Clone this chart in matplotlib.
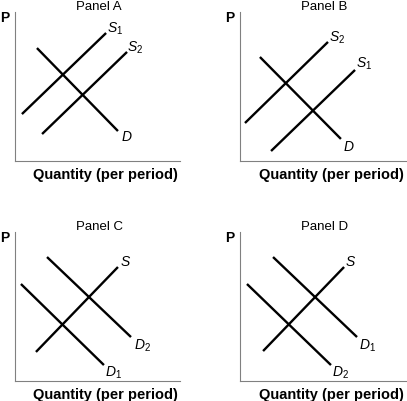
import matplotlib
matplotlib.use('Agg')
import matplotlib.pyplot as plt

plt.rcParams['font.family'] = ['Liberation Sans', 'DejaVu Sans']
plt.rcParams['mathtext.fontset'] = 'custom'
plt.rcParams['mathtext.rm'] = 'Liberation Sans'
plt.rcParams['mathtext.it'] = 'Liberation Sans:italic'

# curve endpoints: (Q start, Q end), (P start, P end), on a 0-10 scale
panel_titles = ['Panel A', 'Panel B', 'Panel C', 'Panel D']

a_s1_q = [0.42, 5.52]; a_s1_p = [3.15, 8.59]
a_s2_q = [1.64, 6.79]; a_s2_p = [1.81, 7.32]
a_d_q = [1.33, 6.24];  a_d_p = [7.58, 2.01]

b_s2_q = [0.30, 5.30]; b_s2_p = [2.55, 7.99]
b_s1_q = [1.87, 6.93]; b_s1_p = [0.67, 6.11]
b_d_q = [1.20, 6.08];  b_d_p = [6.98, 1.48]

c_s_q = [1.27, 6.24];  c_s_p = [1.95, 7.65]
c_d2_q = [1.94, 7.03]; c_d2_p = [8.32, 2.95]
c_d1_q = [0.36, 5.39]; c_d1_p = [6.51, 1.07]

d_s_q = [1.39, 6.27];  d_s_p = [2.01, 7.65]
d_d1_q = [1.99, 7.05]; d_d1_p = [8.32, 2.95]
d_d2_q = [0.42, 5.48]; d_d2_p = [6.51, 1.07]

# curve labels: (text, Q, P)
a_labels = [(r'$S_1$', 6.06, 8.93), (r'$S_2$', 7.27, 7.65), (r'$D$', 6.79, 1.68)]
b_labels = [(r'$S_2$', 5.84, 8.32), (r'$S_1$', 7.47, 6.58), (r'$D$', 6.57, 1.01)]
c_labels = [(r'$S$', 6.73, 8.05), (r'$D_2$', 7.70, 2.42), (r'$D_1$', 5.94, 0.60)]
d_labels = [(r'$S$', 6.69, 8.05), (r'$D_1$', 7.65, 2.42), (r'$D_2$', 6.08, 0.60)]

panels = [
    ([(a_s1_q, a_s1_p), (a_s2_q, a_s2_p), (a_d_q, a_d_p)], a_labels),
    ([(b_s2_q, b_s2_p), (b_s1_q, b_s1_p), (b_d_q, b_d_p)], b_labels),
    ([(c_s_q, c_s_p), (c_d2_q, c_d2_p), (c_d1_q, c_d1_p)], c_labels),
    ([(d_s_q, d_s_p), (d_d1_q, d_d1_p), (d_d2_q, d_d2_p)], d_labels),
]

W, H = 407, 402
# axes boxes in pixels: left, top, right, bottom
boxes = [(15, 13, 180, 162), (240, 13, 406, 162),
         (15, 233, 180, 382), (240, 233, 406, 382)]

fig = plt.figure(figsize=(W / 100, H / 100), dpi=100)

for (curves, labels), title, (l, t, r, b) in zip(panels, panel_titles, boxes):
    ax = fig.add_axes([l / W, (H - b) / H, (r - l) / W, (b - t) / H])
    for q, p in curves:
        ax.plot(q, p, color='black', lw=1.7, solid_capstyle='butt')
    for txt, q, p in labels:
        ax.text(q, p, txt, ha='center', va='center', fontsize=10)
    ax.set_xlim(0, 10)
    ax.set_ylim(0, 10)
    ax.set_xticks([])
    ax.set_yticks([])
    for s in ['top', 'right']:
        ax.spines[s].set_visible(False)
    for s in ['left', 'bottom']:
        ax.spines[s].set_color('#808080')
        ax.spines[s].set_linewidth(0.8)
    ax.text(0.51, 1.0, title, transform=ax.transAxes, ha='center', va='bottom',
            fontsize=9.5)
    ax.text(-0.035, 0.966, 'P', transform=ax.transAxes, ha='right', va='center',
            fontsize=10, fontweight='bold')
    ax.text(0.55, -0.087, 'Quantity (per period)', transform=ax.transAxes,
            ha='center', va='center', fontsize=10.5, fontweight='bold')

fig.savefig('out.png', dpi=100)
